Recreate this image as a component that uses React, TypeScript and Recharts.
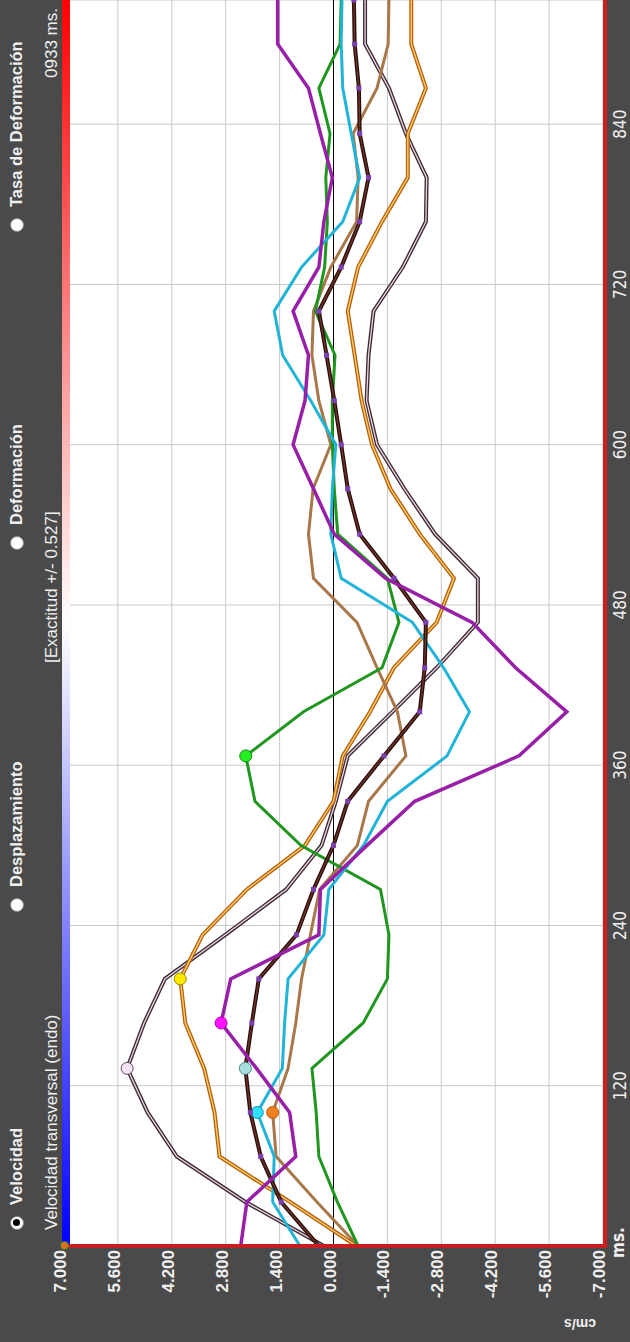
import React from "react"
import { LineChart, Line, XAxis, YAxis, CartesianGrid, ReferenceLine } from "recharts"

// frame times (ms), one frame every ~33 ms
const TIMES = [0, 33, 67, 100, 133, 167, 200, 233, 267, 300, 333, 367, 400, 433, 467, 500, 533, 567, 600, 633, 667, 700, 733, 767, 800, 833, 867, 900, 933]

// velocity per segment (cm/s)
const purple = [2.41, 2.25, 0.98, 1.14, 2.0, 2.92, 2.67, 0.38, 0.34, -0.87, -2.11, -4.82, -6.06, -4.73, -3.6, -1.35, -0.02, 0.52, 1.05, 0.74, 0.65, 1.05, 0.38, 0.25, 0.03, 0.34, 0.65, 1.45, 1.45]
const green = [-0.64, -0.1, 0.38, 0.45, 0.56, -0.77, -1.4, -1.44, -1.22, 0.85, 2.04, 2.28, 0.78, -1.26, -1.7, -1.4, -0.11, -0.02, 0.03, 0.03, -0.04, 0.47, 0.23, 0.16, 0.2, 0.09, 0.38, -0.17, -0.2]
const cyan = [0.87, 1.58, 1.54, 1.98, 1.33, 1.27, 1.18, 0.25, 0.12, -0.78, -1.4, -2.95, -3.53, -2.86, -2.05, -0.2, 0.07, 0.03, -0.06, 0.59, 1.32, 1.54, 0.83, -0.24, -0.68, -0.46, -0.24, -0.2, -0.22]
const tan = [-0.64, 0.43, 1.49, 1.58, 1.18, 0.98, 0.83, 0.6, 0.36, -0.62, -0.91, -1.88, -1.66, -1.13, -0.61, 0.52, 0.65, 0.53, 0.07, 0.38, 0.56, 0.52, 0.07, -0.6, -0.64, -0.51, -1.13, -1.42, -1.44]
const orange = [-0.6, 1.13, 2.96, 3.09, 3.36, 3.85, 3.98, 3.4, 2.25, 0.74, 0.0, -0.24, -0.95, -1.57, -2.68, -3.13, -2.24, -1.48, -1.0, -0.73, -0.55, -0.37, -0.64, -1.26, -1.93, -1.93, -2.4, -2.02, -2.02]
const mauve = [0.25, 2.29, 4.07, 4.83, 5.36, 4.92, 4.38, 2.81, 1.23, 0.31, -0.06, -0.37, -1.53, -2.68, -3.75, -3.75, -2.64, -1.84, -1.13, -0.86, -0.91, -1.04, -1.8, -2.4, -2.42, -1.88, -1.44, -0.82, -0.82]
const darkBrown = [0.38, 1.36, 1.89, 2.16, 2.29, 2.12, 1.94, 0.96, 0.52, 0.0, -0.37, -1.31, -2.24, -2.37, -2.4, -1.57, -0.68, -0.37, -0.2, -0.02, 0.18, 0.38, -0.2, -0.68, -0.91, -0.68, -0.66, -0.55, -0.53]

const X_TICKS = [120, 240, 360, 480, 600, 720, 840]
const Y_TICKS = [-7, -5.6, -4.2, -2.8, -1.4, 0, 1.4, 2.8, 4.2, 5.6, 7]

const data = TIMES.map((t, i) => ({
  t,
  purple: purple[i],
  green: green[i],
  cyan: cyan[i],
  tan: tan[i],
  orange: orange[i],
  mauve: mauve[i],
  darkBrown: darkBrown[i],
}))

const BG = "#4a4a4a"
const TXT = "#f0f0f0"
const SANS = "'Liberation Sans', Arial, sans-serif"
const NARROW = "'Liberation Sans Narrow', 'Arial Narrow', 'DejaVu Sans Condensed', sans-serif"

const peakDot = (idx: number, fill: string, stroke: string) => (props: any) => {
  const { cx, cy, index } = props
  if (index !== idx) return <g key={`p${index}`} />
  return <circle key={`p${index}`} cx={cx} cy={cy} r={6} fill={fill} stroke={stroke} strokeWidth={1} />
}

const squareDot = (props: any) => {
  const { cx, cy, index } = props
  return <rect key={`s${index}`} x={cx - 2.5} y={cy - 2.5} width={5} height={5} fill="#7b3fb0" />
}

function Radio({ center, label, checked }: { center: number; label: string; checked?: boolean }) {
  return (
    <div style={{ position: "absolute", left: center - 7, top: 7, height: 19, display: "flex", alignItems: "center" }}>
      <div
        style={{
          width: 14,
          height: 14,
          boxSizing: "border-box",
          borderRadius: "50%",
          background: "#fff",
          border: "1px solid #888",
          display: "flex",
          alignItems: "center",
          justifyContent: "center",
          marginRight: 11,
        }}
      >
        {checked && <div style={{ width: 7, height: 7, borderRadius: "50%", background: "#000" }} />}
      </div>
      <span style={{ fontFamily: SANS, fontWeight: "bold", fontSize: 16.5, lineHeight: "19px", color: TXT, whiteSpace: "nowrap" }}>
        {label}
      </span>
    </div>
  )
}

function Landscape() {
  return (
    <div style={{ position: "absolute", left: 0, top: 0, width: 1342, height: 630, background: BG }}>
      <LineChart width={1342} height={630} data={data} margin={{ top: 64, right: 0, bottom: 0, left: 0 }}>
        <CartesianGrid stroke="#c8c8c8" strokeWidth={1} fill="#ffffff" />
        <XAxis
          dataKey="t"
          type="number"
          domain={[0, 933]}
          ticks={X_TICKS}
          interval={0}
          height={27}
          axisLine={false}
          tickLine={false}
          tick={(p: any) => (
            <text x={p.x} y={626} textAnchor="middle" fill={TXT} fontSize={17} fontFamily={NARROW}>
              {p.payload.value}
            </text>
          )}
        />
        <YAxis
          type="number"
          domain={[-7, 7]}
          ticks={Y_TICKS}
          interval={0}
          width={96}
          axisLine={false}
          tickLine={false}
          tick={(p: any) => (
            <text x={92} y={p.y + 2} textAnchor="end" fill={TXT} fontSize={17} fontWeight="bold" fontFamily={SANS}>
              {Number(p.payload.value).toFixed(3)}
            </text>
          )}
        />
        <ReferenceLine y={0} stroke="#000" strokeWidth={1} />
        <Line dataKey="mauve" stroke="#3d2a33" strokeWidth={4} dot={false} isAnimationActive={false} />
        <Line dataKey="mauve" key="mauve2" stroke="#ecd6e6" strokeWidth={1.3} dot={peakDot(4, "#f6e4f6", "#5a4a5a")} isAnimationActive={false} />
        <Line dataKey="orange" stroke="#b8620c" strokeWidth={4} dot={false} isAnimationActive={false} />
        <Line dataKey="orange" key="orange2" stroke="#ffd070" strokeWidth={1.3} dot={peakDot(6, "#ffe800", "#9a8a00")} isAnimationActive={false} />
        <Line dataKey="tan" stroke="#a8784a" strokeWidth={3} dot={peakDot(3, "#f08020", "#b05a10")} isAnimationActive={false} />
        <Line dataKey="green" stroke="#1f961f" strokeWidth={3} dot={peakDot(11, "#22ee22", "#118811")} isAnimationActive={false} />
        <Line dataKey="cyan" stroke="#22b4d8" strokeWidth={3} dot={peakDot(3, "#30e0ff", "#1890b0")} isAnimationActive={false} />
        <Line dataKey="darkBrown" stroke="#2a0d0d" strokeWidth={4} dot={squareDot} isAnimationActive={false} />
        <Line dataKey="darkBrown" key="dark2" stroke="#6e3424" strokeWidth={1.4} dot={peakDot(4, "#a8e0e0", "#4a8a8a")} isAnimationActive={false} />
        <Line dataKey="purple" stroke="#9820a8" strokeWidth={3.5} dot={peakDot(5, "#ff10ff", "#b000b0")} isAnimationActive={false} />
      </LineChart>

      {/* colour bar along the top of the plot */}
      <div
        style={{
          position: "absolute",
          left: 96,
          top: 62,
          width: 1246,
          height: 8,
          background: "linear-gradient(to right, #0000ff 0%, #ffffff 50%, #ff0000 100%)",
        }}
      />
      {/* red frame */}
      <div style={{ position: "absolute", left: 94, top: 62, width: 4, height: 545, background: "#c41e1e" }} />
      <div style={{ position: "absolute", left: 94, top: 603, width: 1248, height: 4, background: "#d01c1c" }} />
      <div
        style={{
          position: "absolute",
          left: 92,
          top: 60,
          width: 9,
          height: 9,
          borderRadius: "50%",
          background: "#e07020",
          border: "1px solid #2a8a2a",
          boxSizing: "border-box",
        }}
      />

      <Radio center={119} label="Velocidad" checked />
      <Radio center={437} label="Desplazamiento" />
      <Radio center={799} label="Deformación" />
      <Radio center={1117} label="Tasa de Deformación" />

      <div style={{ position: "absolute", left: 112, top: 42, fontFamily: SANS, fontSize: 17, color: TXT, whiteSpace: "nowrap" }}>
        Velocidad transversal (endo)
      </div>
      <div style={{ position: "absolute", left: 679, top: 42, fontFamily: SANS, fontSize: 17, color: TXT, whiteSpace: "nowrap" }}>
        [Exactitud +/- 0.527]
      </div>
      <div style={{ position: "absolute", right: 8, top: 42, fontFamily: SANS, fontSize: 17, color: TXT, whiteSpace: "nowrap" }}>
        0933 ms.
      </div>

      <div style={{ position: "absolute", left: 84, top: 608, fontFamily: NARROW, fontWeight: "bold", fontSize: 17, color: TXT }}>ms.</div>
      <div
        style={{
          position: "absolute",
          left: 18,
          top: 580,
          transform: "translate(-50%, -50%) rotate(-90deg)",
          fontFamily: SANS,
          fontWeight: "bold",
          fontSize: 14,
          color: TXT,
          whiteSpace: "nowrap",
        }}
      >
        cm/s
      </div>
    </div>
  )
}

export default function App() {
  return (
    <div style={{ position: "fixed", left: 0, top: 0, width: 630, height: 1342, overflow: "hidden", background: BG }}>
      <div style={{ position: "absolute", left: 0, top: 0, transform: "translateY(1342px) rotate(-90deg)", transformOrigin: "0 0" }}>
        <Landscape />
      </div>
    </div>
  )
}
